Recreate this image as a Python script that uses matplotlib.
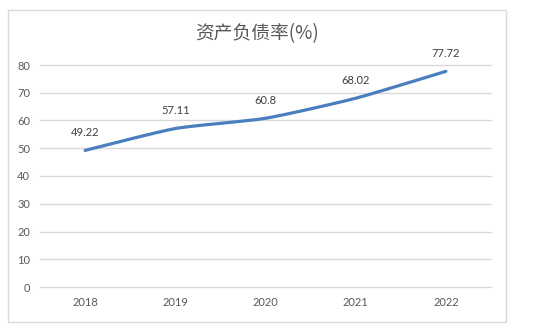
import matplotlib.pyplot as plt
import numpy as np
from matplotlib.patches import Rectangle

plt.rcParams['font.family'] = ['Lato', 'Noto Sans CJK SC', 'DejaVu Sans']

years = ['2018', '2019', '2020', '2021', '2022']
debt_ratio = [49.22, 57.11, 60.8, 68.02, 77.72]

LINE_COLOR = '#4A7EBF'
TEXT_COLOR = '#595959'
GRID_COLOR = '#D9D9D9'


def smooth_curve(xs, ys, tension=1 / 10, steps=40):
    """平滑折线（分段三次贝塞尔）"""
    xs = np.asarray(xs, dtype=float)
    ys = np.asarray(ys, dtype=float)
    n = len(xs)
    px, py = [], []
    for i in range(n - 1):
        x0, y0 = xs[max(i - 1, 0)], ys[max(i - 1, 0)]
        x1, y1 = xs[i], ys[i]
        x2, y2 = xs[i + 1], ys[i + 1]
        x3, y3 = xs[min(i + 2, n - 1)], ys[min(i + 2, n - 1)]
        c1x, c1y = x1 + (x2 - x0) * tension, y1 + (y2 - y0) * tension
        c2x, c2y = x2 - (x3 - x1) * tension, y2 - (y3 - y1) * tension
        t = np.linspace(0, 1, steps)
        a, b, c, d = (1 - t) ** 3, 3 * (1 - t) ** 2 * t, 3 * (1 - t) * t ** 2, t ** 3
        px.extend(a * x1 + b * c1x + c * c2x + d * x2)
        py.extend(a * y1 + b * c1y + c * c2y + d * y2)
    return np.array(px), np.array(py)


fig = plt.figure(figsize=(5.58, 3.28), dpi=100)
fig.patch.set_facecolor('white')

# 图表外框
fig.patches.append(Rectangle((8 / 558, 1 - 322 / 328), 498 / 558, 312 / 328,
                             transform=fig.transFigure, fill=False,
                             edgecolor=GRID_COLOR, linewidth=1))

ax = fig.add_axes([40 / 558, 1 - 287 / 328, 451 / 558, 222 / 328])
x = np.arange(len(years))
sx, sy = smooth_curve(x, debt_ratio)
ax.plot(sx, sy, color=LINE_COLOR, linewidth=2.3, solid_capstyle='round', zorder=3)

for xi, v in zip(x, debt_ratio):
    ax.annotate(f'{v:g}', xy=(xi, v), xytext=(0, 13), textcoords='offset points',
                ha='center', va='center', fontsize=8, color='#404040')

ax.set_xlim(-0.5, len(years) - 0.5)
ax.set_ylim(0, 80)
ax.set_yticks(np.arange(0, 81, 10))
ax.set_xticks(x)
ax.set_xticklabels(years)
ax.grid(axis='y', color=GRID_COLOR, linewidth=1)
for gl in ax.get_ygridlines():
    gl.set_clip_on(False)
ax.set_axisbelow(True)
for s in ax.spines.values():
    s.set_visible(False)
ax.tick_params(axis='both', length=0, labelsize=8, labelcolor=TEXT_COLOR)
ax.tick_params(axis='y', pad=7)
ax.tick_params(axis='x', pad=7)

fig.text(257 / 558, 1 - 34 / 328, '资产负债率(%)', ha='center', va='center',
         fontsize=13.5, color=TEXT_COLOR, family=['Noto Sans CJK SC', 'DejaVu Sans'])

fig.savefig('out.png', dpi=100)
